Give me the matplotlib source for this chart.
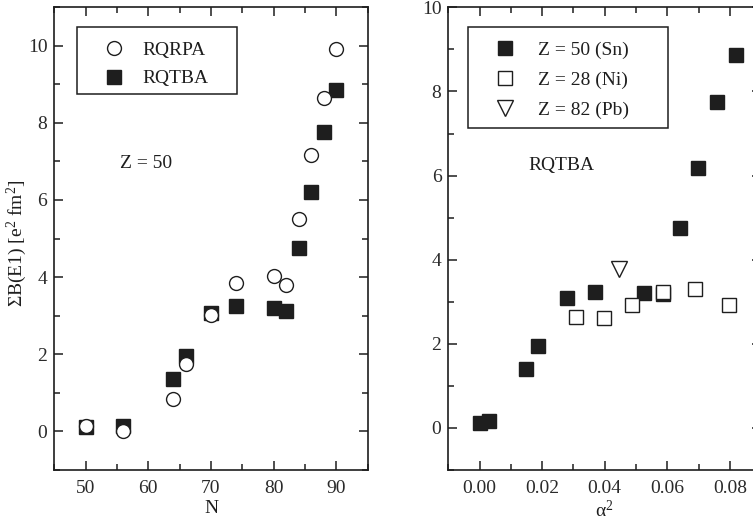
import matplotlib
matplotlib.use("Agg")
import matplotlib.pyplot as plt
from matplotlib.ticker import MultipleLocator, FormatStrFormatter
from matplotlib.patches import Rectangle

plt.rcParams['font.family'] = ['Liberation Serif', 'DejaVu Serif']
plt.rcParams['mathtext.fontset'] = 'custom'
plt.rcParams['mathtext.rm'] = 'Liberation Serif'
plt.rcParams['mathtext.it'] = 'Liberation Serif:italic'

# Left panel data (Z = 50)
N_vals = [50, 56, 64, 66, 70, 74, 80, 82, 84, 86, 88, 90]
rqrpa = [0.13, 0.01, 0.85, 1.76, 3.03, 3.84, 4.03, 3.80, 5.51, 7.16, 8.65, 9.91]
rqtba = [0.11, 0.14, 1.37, 1.95, 3.08, 3.24, 3.19, 3.13, 4.75, 6.20, 7.77, 8.86]

# Right panel data (RQTBA vs alpha^2)
sn_a2 = [0.0, 0.003, 0.0147, 0.0188, 0.0278, 0.0369, 0.0527, 0.0588, 0.064, 0.0699, 0.076, 0.082]
sn_b = [0.12, 0.16, 1.39, 1.94, 3.08, 3.24, 3.21, 3.18, 4.75, 6.18, 7.76, 8.86]
ni_a2 = [0.0307, 0.0398, 0.0488, 0.0587, 0.0688, 0.0796]
ni_b = [2.63, 2.62, 2.92, 3.23, 3.31, 2.93]
pb_a2 = [0.0445]
pb_b = [3.77]

C = '#1e1e1e'
fs = 14

fig = plt.figure(figsize=(7.53, 5.32), dpi=100)
axL = fig.add_axes([0.0721, 0.1165, 0.4162, 0.8703])
axR = fig.add_axes([0.5954, 0.1165, 0.4153, 0.8697])

def style(ax):
    for s in ax.spines.values():
        s.set_linewidth(1.2)
        s.set_color(C)
    ax.tick_params(which='both', direction='in', top=True, right=True,
                   colors=C, labelcolor='#2a2a2a', labelsize=fs, width=1.1)
    ax.tick_params(which='major', length=6.5)
    ax.tick_params(which='minor', length=4)
    ax.tick_params(axis='y', pad=5)
    ax.tick_params(axis='x', pad=7)

# Left panel
axL.plot(N_vals, rqrpa, linestyle='none', marker='o', markersize=10,
         markerfacecolor='white', markeredgecolor=C, markeredgewidth=1.0,
         label='RQRPA', zorder=3)
axL.plot(N_vals, rqtba, linestyle='none', marker='s', markersize=9.5,
         markerfacecolor=C, markeredgecolor=C, markeredgewidth=1.0,
         label='RQTBA', zorder=2)
axL.set_xlim(45, 95)
axL.set_ylim(-1, 11)
axL.xaxis.set_major_locator(MultipleLocator(10))
axL.xaxis.set_minor_locator(MultipleLocator(5))
axL.yaxis.set_major_locator(MultipleLocator(2))
axL.yaxis.set_minor_locator(MultipleLocator(1))
style(axL)
axL.set_xlabel('N', fontsize=fs, color=C, labelpad=2)
axL.set_ylabel(r'ΣB(E1) [e$^2$ fm$^2$]', fontsize=fs, color=C)
axL.yaxis.set_label_coords(-0.082, 0.49)
axL.text(0.21, 0.663, 'Z = 50', transform=axL.transAxes, fontsize=fs,
         color=C, va='center', ha='left')
legL = axL.legend(loc='upper left', bbox_to_anchor=(0.1586, 0.9266), fontsize=fs,
                  frameon=False, borderaxespad=0, handlelength=1.0,
                  handletextpad=0.98, borderpad=0, labelspacing=0.57)
for t in legL.get_texts():
    t.set_color(C)
axL.add_patch(Rectangle((0.0724, 0.8121), 0.5105, 0.1447, transform=axL.transAxes,
                        facecolor='none', edgecolor=C, linewidth=1.1, zorder=5))

# Right panel
axR.plot(sn_a2, sn_b, linestyle='none', marker='s', markersize=9.5,
         markerfacecolor=C, markeredgecolor=C, markeredgewidth=1.0,
         label='Z = 50 (Sn)', zorder=2)
axR.plot(ni_a2, ni_b, linestyle='none', marker='s', markersize=9.5,
         markerfacecolor='white', markeredgecolor=C, markeredgewidth=1.0,
         label='Z = 28 (Ni)', zorder=3)
axR.plot(pb_a2, pb_b, linestyle='none', marker='v', markersize=11,
         markerfacecolor='white', markeredgecolor=C, markeredgewidth=1.0,
         label='Z = 82 (Pb)', zorder=3)
axR.set_xlim(-0.01, 0.09)
axR.set_ylim(-1, 10)
axR.xaxis.set_major_locator(MultipleLocator(0.02))
axR.xaxis.set_minor_locator(MultipleLocator(0.01))
axR.yaxis.set_major_locator(MultipleLocator(2))
axR.yaxis.set_minor_locator(MultipleLocator(1))
axR.xaxis.set_major_formatter(FormatStrFormatter('%.2f'))
style(axR)
axR.set_xlabel(r'α$^2$', fontsize=fs, color=C, labelpad=2)
axR.text(0.256, 0.658, 'RQTBA', transform=axR.transAxes, fontsize=fs,
         color=C, va='center', ha='left')
legR = axR.legend(loc='upper left', bbox_to_anchor=(0.1503, 0.9272), fontsize=fs,
                  frameon=False, borderaxespad=0, handlelength=1.0,
                  handletextpad=1.2, borderpad=0, labelspacing=0.63)
for t in legR.get_texts():
    t.set_color(C)
axR.add_patch(Rectangle((0.062, 0.7398), 0.6396, 0.2183, transform=axR.transAxes,
                        facecolor='none', edgecolor=C, linewidth=1.1, zorder=5))

fig.savefig('out.png', dpi=100)
